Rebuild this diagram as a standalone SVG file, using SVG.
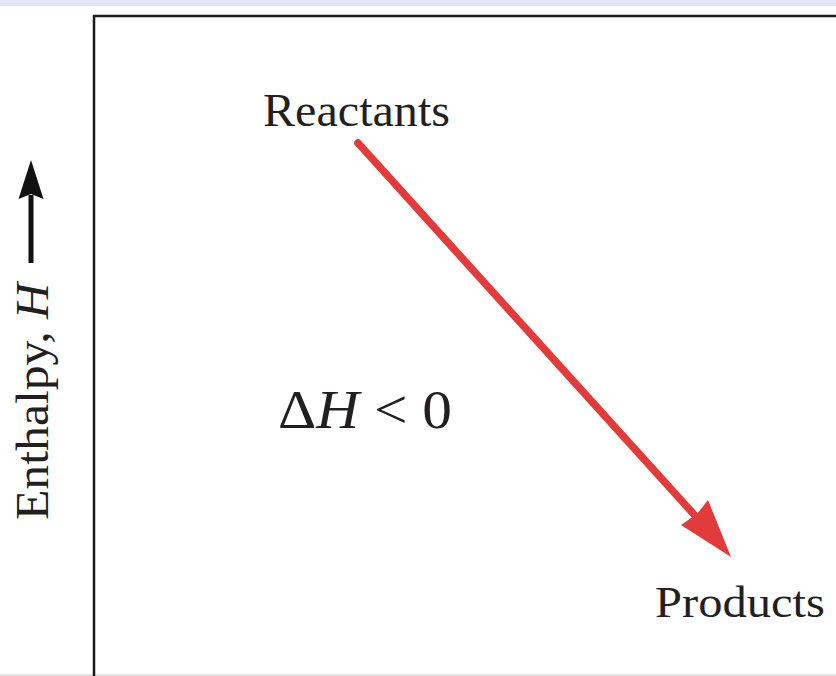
<svg xmlns="http://www.w3.org/2000/svg" width="836" height="676" viewBox="0 0 836 676">
<style>
.t{font-family:"Liberation Serif","DejaVu Serif",serif;fill:#231f20}
.frame{fill:none;stroke:#1a1a1a;stroke-width:2.5}
</style>
<rect x="0" y="0" width="836" height="676" fill="#ffffff"/>
<rect x="0" y="0" width="836" height="6" fill="#e3e6f2"/>
<rect x="0" y="674" width="836" height="2" fill="#e2e2e2"/>
<g id="frame">
<path class="frame" d="M94,676 V16 H836"/>
</g>
<g id="axis">
<text class="t" transform="translate(48,520) rotate(-90)" font-size="46" textLength="237" lengthAdjust="spacingAndGlyphs">Enthalpy, <tspan font-style="italic">H</tspan></text>
<line x1="31" y1="263" x2="31" y2="195" stroke="#111" stroke-width="5"/>
<polygon points="31,160 18.5,199 31,194 43.5,199" fill="#111"/>
</g>
<g id="reactants">
<text class="t" x="263" y="126" font-size="46" textLength="187" lengthAdjust="spacingAndGlyphs">Reactants</text>
</g>
<g id="products">
<text class="t" x="655" y="617" font-size="44" textLength="170" lengthAdjust="spacingAndGlyphs">Products</text>
</g>
<g id="deltaH">
<text class="t" x="278" y="428" font-size="54" textLength="174" lengthAdjust="spacingAndGlyphs">Δ<tspan font-style="italic">H</tspan> &lt; 0</text>
</g>
<g id="connectors">
<line x1="358" y1="143" x2="699" y2="520" stroke="#e23b3b" stroke-width="7.5" stroke-linecap="round"/>
<polygon points="731,557 681,525 697,514 708,500" fill="#e23b3b"/>
</g>
</svg>
